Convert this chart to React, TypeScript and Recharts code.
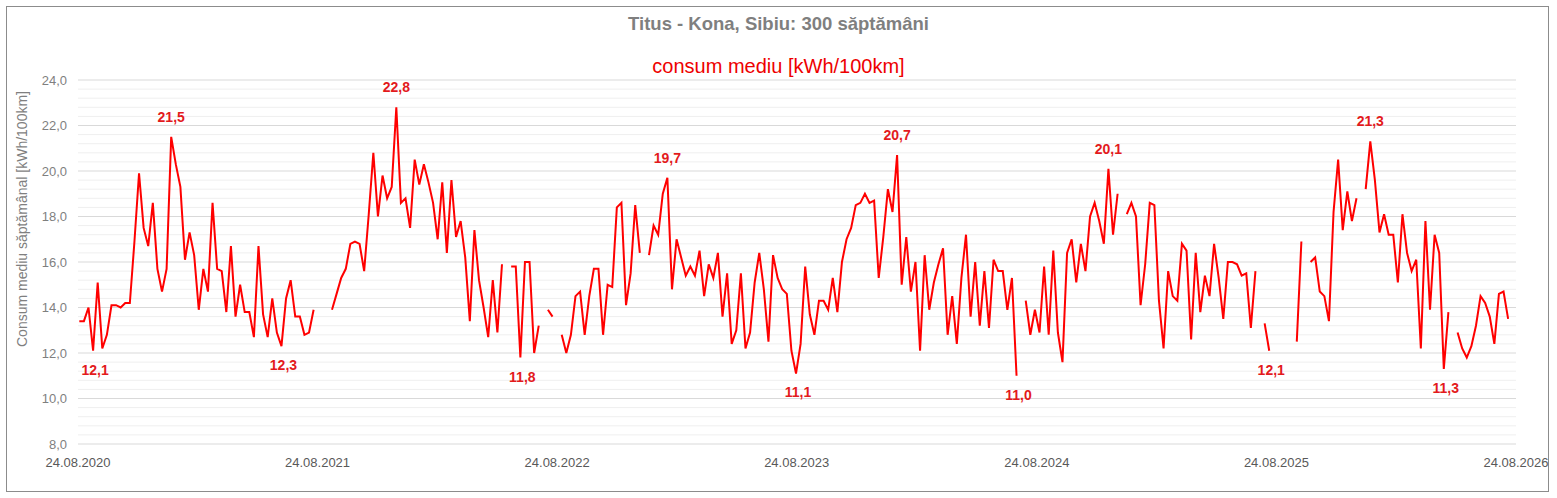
import { LineChart, Line, XAxis, YAxis, CartesianGrid, LabelList } from "recharts";

document.body.style.margin = "0";

// x axis: days since 24.08.2020, one tick per year
const dateTicks = [0, 365, 730, 1095, 1461, 1826, 2191];
const dateLabels = [
  "24.08.2020",
  "24.08.2021",
  "24.08.2022",
  "24.08.2023",
  "24.08.2024",
  "24.08.2025",
  "24.08.2026",
];
const yTicks = [8, 10, 12, 14, 16, 18, 20, 22, 24];

// first week starts 2 days after 24.08.2020, one value per week (null = no data)
const firstDay = 2;
const consum: (number | null)[] = [
  13.4, 13.4, 14.0, 12.1, 15.1, 12.2, 12.8, 14.1, 14.1, 14.0,
  14.2, 14.2, 16.9, 19.9, 17.5, 16.7, 18.6, 15.7, 14.7, 15.7,
  21.5, 20.3, 19.3, 16.1, 17.3, 16.3, 13.9, 15.7, 14.7, 18.6,
  15.7, 15.6, 13.8, 16.7, 13.6, 15.0, 13.8, 13.8, 12.7, 16.7,
  13.7, 12.7, 14.4, 12.9, 12.3, 14.4, 15.2, 13.6, 13.6, 12.8,
  12.9, 13.9, null, null, null, 13.9, 14.6, 15.3, 15.7, 16.8,
  16.9, 16.8, 15.6, 18.1, 20.8, 18.0, 19.8, 18.8, 19.3, 22.8,
  18.6, 18.8, 17.5, 20.5, 19.4, 20.3, 19.5, 18.6, 17.0, 19.5,
  16.4, 19.6, 17.1, 17.8, 16.2, 13.4, 17.4, 15.2, 14.0, 12.7,
  15.2, 12.9, 15.9, null, 15.8, 15.8, 11.8, 16.0, 16.0, 12.0,
  13.2, null, 13.9, 13.6, null, 12.8, 12.0, 12.8, 14.5, 14.7,
  12.8, 14.5, 15.7, 15.7, 12.8, 15.0, 14.9, 18.4, 18.6, 14.1,
  15.5, 18.5, 16.4, null, 16.3, 17.6, 17.2, 19.0, 19.7, 14.8,
  17.0, 16.2, 15.4, 15.8, 15.4, 16.5, 14.5, 15.9, 15.3, 16.4,
  13.6, 15.5, 12.4, 13.0, 15.5, 12.2, 12.9, 15.1, 16.4, 14.8,
  12.5, 16.3, 15.3, 14.8, 14.6, 12.1, 11.1, 12.4, 15.8, 13.7,
  12.8, 14.3, 14.3, 13.9, 15.3, 13.8, 16.0, 17.0, 17.5, 18.5,
  18.6, 19.0, 18.6, 18.7, 15.3, 17.1, 19.2, 18.2, 20.7, 15.0,
  17.1, 14.7, 16.0, 12.1, 16.3, 13.9, 15.1, 15.9, 16.6, 12.8,
  14.5, 12.4, 15.3, 17.2, 13.6, 16.0, 13.2, 15.6, 13.1, 16.1,
  15.6, 15.6, 13.9, 15.3, 11.0, null, 14.3, 12.8, 13.9, 12.9,
  15.8, 12.8, 16.5, 12.9, 11.6, 16.4, 17.0, 15.1, 16.8, 15.6,
  18.0, 18.6, 17.8, 16.8, 20.1, 17.2, 19.0, null, 18.1, 18.6,
  18.0, 14.1, 15.9, 18.6, 18.5, 14.3, 12.2, 15.6, 14.5, 14.3,
  16.8, 16.5, 12.6, 16.4, 13.8, 15.4, 14.5, 16.8, 15.3, 13.5,
  16.0, 16.0, 15.9, 15.4, 15.5, 13.1, 15.6, null, 13.3, 12.1,
  null, null, null, null, null, 12.5, 16.9, null, 16.0, 16.2,
  14.7, 14.5, 13.4, 18.2, 20.5, 17.4, 19.1, 17.8, 18.8, null,
  19.2, 21.3, 19.6, 17.3, 18.1, 17.2, 17.2, 15.1, 18.1, 16.4,
  15.6, 16.1, 12.2, 17.8, 13.9, 17.2, 16.4, 11.3, 13.8, null,
  12.9, 12.2, 11.8, 12.3, 13.2, 14.5, 14.2, 13.6, 12.4, 14.6,
  14.7, 13.5,
];

// weeks that carry a max / min annotation
const peakWeeks = [20, 69, 128, 178, 224, 281];
const lowWeeks = [3, 44, 96, 156, 204, 259, 297];

const minorTicks: number[] = [];
for (let i = 1; i < 40; i++) {
  if (i % 5 !== 0) minorTicks.push(+(8 + i * 0.4).toFixed(1));
}

const data = consum.map((v, i) => ({
  day: firstDay + 7 * i,
  consum: v,
  peak: peakWeeks.includes(i) ? v : null,
  low: lowWeeks.includes(i) ? v : null,
}));

const fmt = (v: number) => v.toFixed(1).replace(".", ",");

const lineRed = "#ff0000";
const labelRed = "#e31a1c";

const PeakLabel = (props: any) => {
  const { x, y, value } = props;
  if (value == null) return null;
  return (
    <text x={x} y={y - 15} textAnchor="middle" fill={labelRed} fontSize={14} fontWeight="bold">
      {fmt(value)}
    </text>
  );
};

const LowLabel = (props: any) => {
  const { x, y, value } = props;
  if (value == null) return null;
  return (
    <text x={x + 2} y={y + 24} textAnchor="middle" fill={labelRed} fontSize={14} fontWeight="bold">
      {fmt(value)}
    </text>
  );
};

export default function App() {
  return (
    <div
      style={{
        position: "relative",
        width: 1557,
        height: 498,
        fontFamily: "'Liberation Sans', Arial, sans-serif",
        background: "#fff",
      }}
    >
      <div
        style={{
          position: "absolute",
          left: 6,
          top: 6,
          width: 1543,
          height: 486,
          border: "1px solid #8c8c8c",
          boxSizing: "border-box",
        }}
      />
      <div
        style={{
          position: "absolute",
          left: 0,
          width: 1557,
          top: 13,
          textAlign: "center",
          fontSize: 18.5,
          fontWeight: "bold",
          color: "#7f7f7f",
          lineHeight: "22px",
        }}
      >
        Titus - Kona, Sibiu: 300 săptămâni
      </div>
      <div
        style={{
          position: "absolute",
          left: 0,
          width: 1557,
          top: 54,
          textAlign: "center",
          fontSize: 20,
          color: "#ee0000",
          lineHeight: "24px",
        }}
      >
        consum mediu [kWh/100km]
      </div>
      <div
        style={{
          position: "absolute",
          left: 22,
          top: 219,
          width: 0,
          height: 0,
        }}
      >
        <div
          style={{
            position: "absolute",
            transform: "translate(-50%, -50%) rotate(-90deg)",
            whiteSpace: "nowrap",
            fontSize: 14,
            color: "#7f7f7f",
            lineHeight: "16px",
          }}
        >
          Consum mediu săptămânal [kWh/100km]
        </div>
      </div>
      <LineChart
        width={1557}
        height={498}
        data={data}
        margin={{ top: 80, right: 41, left: 0, bottom: 24 }}
      >
        <CartesianGrid vertical={false} horizontalValues={minorTicks} stroke="#efefef" />
        <CartesianGrid vertical={false} stroke="#d9d9d9" />
        <XAxis
          type="number"
          dataKey="day"
          domain={[0, 2191]}
          ticks={dateTicks}
          interval={0}
          tickFormatter={(d: number) => dateLabels[dateTicks.indexOf(d)]}
          axisLine={false}
          tickLine={false}
          tickMargin={8}
          height={30}
          tick={{ fill: "#595959", fontSize: 13 }}
        />
        <YAxis
          domain={[8, 24]}
          ticks={yTicks}
          interval={0}
          tickFormatter={fmt}
          axisLine={false}
          tickLine={false}
          tickMargin={5}
          width={78}
          tick={{ fill: "#7f7f7f", fontSize: 13 }}
        />
        <Line
          type="linear"
          dataKey="consum"
          stroke={lineRed}
          strokeWidth={2}
          dot={false}
          activeDot={false}
          connectNulls={false}
          isAnimationActive={false}
        />
        <Line
          dataKey="peak"
          stroke="none"
          dot={false}
          activeDot={false}
          isAnimationActive={false}
        >
          <LabelList dataKey="peak" content={PeakLabel} />
        </Line>
        <Line
          dataKey="low"
          stroke="none"
          dot={false}
          activeDot={false}
          isAnimationActive={false}
        >
          <LabelList dataKey="low" content={LowLabel} />
        </Line>
      </LineChart>
    </div>
  );
}
